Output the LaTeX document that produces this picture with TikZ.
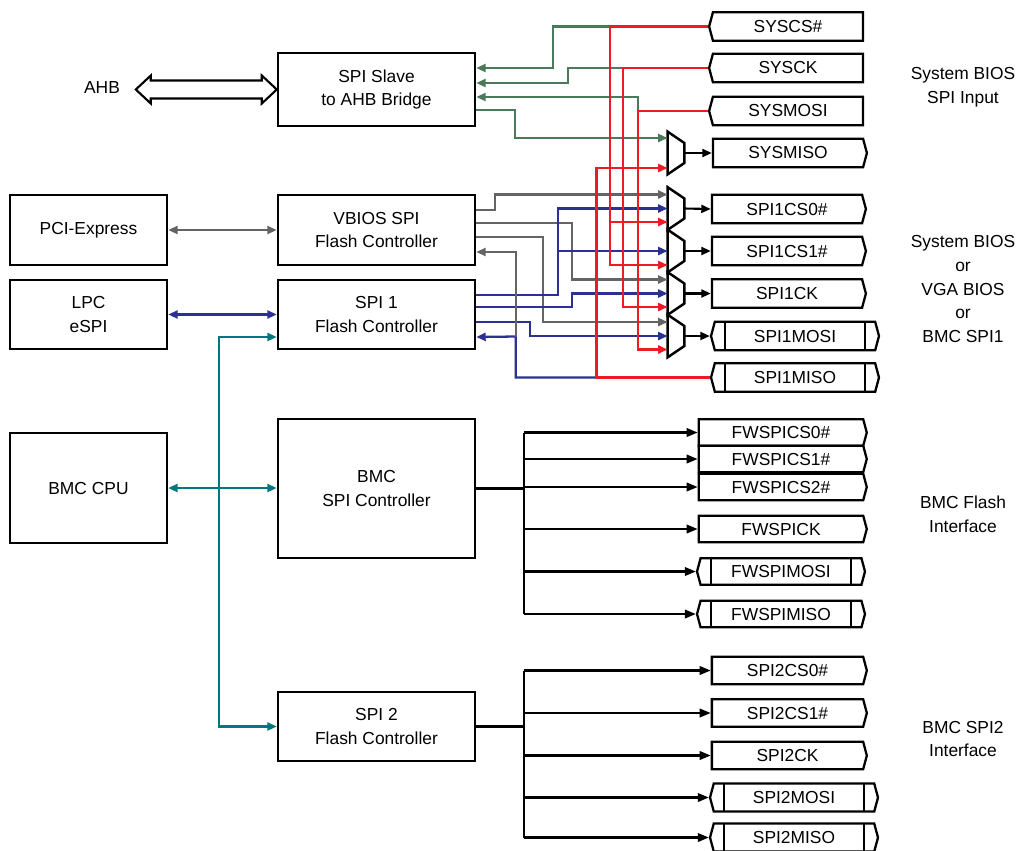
\documentclass[tikz,border=0pt]{standalone}
\usepackage{fontspec}
\setmainfont{Liberation Sans}
\usetikzlibrary{arrows.meta,calc,shapes.symbols}
\definecolor{wgreen}{RGB}{74,122,90}
\definecolor{wgray}{RGB}{100,100,100}
\definecolor{wblue}{RGB}{43,49,146}
\definecolor{wred}{RGB}{237,28,36}
\definecolor{wteal}{RGB}{0,118,128}
\begin{document}
\begin{tikzpicture}[
  x=0.02cm, y=-0.02cm,
  >={Triangle[length=.19cm,width=.16cm]},
  every node/.style={font=\fontsize{9.9}{13.6}\selectfont},
  box/.style={draw, line width=1.4pt, align=center, inner sep=0, minimum width=3.94cm},
  pin/.style={signal, draw, line width=1.3pt, signal pointer angle=150, inner sep=0, minimum height=.57cm, minimum width=3.08cm},
  pinin/.style={pin, signal to=west},
  pinout/.style={pin, signal to=east},
  pinio/.style={pin, signal to=west and east, minimum width=3.36cm,
    path picture={\draw[line width=1.3pt]
      ([xshift=.28cm]path picture bounding box.north west) -- ([xshift=.28cm]path picture bounding box.south west)
      ([xshift=-.28cm]path picture bounding box.north east) -- ([xshift=-.28cm]path picture bounding box.south east);}},
  fwpin/.style={minimum width=3.36cm, minimum height=.53cm},
  mux/.style={inner sep=0, minimum width=.32cm, minimum height=.84cm},
  gline/.style={wgreen, line width=1.3pt},
  kline/.style={wgray, line width=1.3pt},
  bline/.style={wblue, line width=1.3pt},
  rline/.style={wred, line width=1.6pt},
  tline/.style={wteal, line width=1.3pt},
  sig/.style={line width=1.2pt},
  bus/.style={line width=2pt},
  pinarrow/.style={-{Triangle[length=.22cm,width=.17cm]}}
]
\useasboundingbox (0,0) rectangle (1020,850);

\node[box, minimum height=1.46cm] (bridge) at (376.5,89.5) {SPI Slave\\to AHB Bridge};
\node[box, minimum height=1.4cm] (vbios) at (376.5,230) {VBIOS SPI\\Flash Controller};
\node[box, minimum height=1.38cm] (spi1) at (376.5,314.5) {SPI 1\\Flash Controller};
\node[box, minimum height=2.78cm] (bmcspi) at (376.5,488.5) {BMC\\SPI Controller};
\node[box, minimum height=1.38cm] (spi2) at (376.5,726.5) {SPI 2\\Flash Controller};
\node[box, minimum width=3.14cm, minimum height=1.4cm] (pcie) at (88.5,230) {PCI-Express};
\node[box, minimum width=3.14cm, minimum height=1.38cm] (lpc) at (88.5,314.5) {LPC\\eSPI};
\node[box, minimum width=3.14cm, minimum height=2.2cm] (bmccpu) at (88.5,488) {BMC CPU};
\node (ahb) at (102,88) {AHB};

\node[pinin] (syscs) at (788,26.5) {SYSCS\#};
\node[pinin] (sysck) at (788,68) {SYSCK};
\node[pinin] (sysmosi) at (788,111) {SYSMOSI};
\node[pinout] (sysmiso) at (788,153) {SYSMISO};
\node[pinout] (spi1cs0) at (787,209) {SPI1CS0\#};
\node[pinout] (spi1cs1) at (787,251) {SPI1CS1\#};
\node[pinout] (spi1ck) at (787,293.5) {SPI1CK};
\node[pinio] (spi1mosi) at (795,336) {SPI1MOSI};
\node[pinio] (spi1miso) at (795,377.5) {SPI1MISO};

\node[pinout, fwpin] (fwcs0) at (781,432.5) {FWSPICS0\#};
\node[pinout, fwpin] (fwcs1) at (781,459) {FWSPICS1\#};
\node[pinout, fwpin] (fwcs2) at (781,487) {FWSPICS2\#};
\node[pinout, fwpin] (fwck) at (781,529) {FWSPICK};
\node[pinio, fwpin] (fwmosi) at (781,571.5) {FWSPIMOSI};
\node[pinio, fwpin] (fwmiso) at (781,614) {FWSPIMISO};

\node[pinout, minimum width=3.1cm, minimum height=.55cm] (spi2cs0) at (787.5,670.5) {SPI2CS0\#};
\node[pinout, minimum width=3.1cm, minimum height=.55cm] (spi2cs1) at (787.5,713) {SPI2CS1\#};
\node[pinout, minimum width=3.1cm, minimum height=.55cm] (spi2ck) at (787.5,755.5) {SPI2CK};
\node[pinio, minimum height=.56cm] (spi2mosi) at (794,797.5) {SPI2MOSI};
\node[pinio, minimum height=.56cm] (spi2miso) at (794,837.5) {SPI2MISO};

\node[align=center] (grpsys) at (963,87) {System BIOS\\SPI Input};
\node[align=center] (grpspi1) at (963,289) {System BIOS\\or\\VGA BIOS\\or\\BMC SPI1};
\node[align=center] (grpfw) at (963,514.5) {BMC Flash\\Interface};
\node[align=center] (grpspi2) at (963,739) {BMC SPI2\\Interface};

\node[mux] (mux0) at (676,153) {};
\node[mux] (mux1) at (676,208.5) {};
\node[mux] (mux2) at (676,251) {};
\node[mux] (mux3) at (676,293.5) {};
\node[mux] (mux4) at (676,336) {};
\foreach \m in {0,...,4}
  \draw[line width=1.4pt] (mux\m.north west) -- ([yshift=.2cm]mux\m.east) -- ([yshift=-.2cm]mux\m.east) -- (mux\m.south west) -- cycle;
\foreach \m in {1,3,4} {
  \coordinate (m\m a) at ([yshift=.28cm]mux\m.west);
  \coordinate (m\m b) at (mux\m.west);
  \coordinate (m\m c) at ([yshift=-.27cm]mux\m.west);
}
\coordinate (m0a) at ([yshift=.3cm]mux0.west);
\coordinate (m0c) at ([yshift=-.3cm]mux0.west);
\coordinate (m2b) at (mux2.west);
\coordinate (m2c) at ([yshift=-.28cm]mux2.west);
\foreach \m/\p in {mux0/sysmiso, mux1/spi1cs0, mux2/spi1cs1, mux3/spi1ck, mux4/spi1mosi}
  \draw[sig,->] (\m.east) -- (\p.west);

\draw[line width=1.2pt, fill=white] (bridge.west) -- ++(-15,-14) -- ++(0,5) -- ++(-111,0) -- ++(0,-5) -- ++(-15,14)
  -- ++(15,14) -- ++(0,-5) -- ++(111,0) -- ++(0,5) -- cycle;
\draw[kline,<->] (pcie) -- (vbios);
\draw[bline,<->] (lpc) -- (spi1);
\draw[tline,<->] (bmccpu.east) -- (bmccpu.east -| bmcspi.west);
\coordinate (tj) at ([xshift=1.02cm]bmccpu.east);
\draw[tline,->] (tj) |- ([yshift=-.45cm]spi1.west);
\draw[tline,->] (tj) |- (spi2.west);

\draw[kline,->] ([yshift=.4cm]vbios.east) -- ++(19,0) |- (m1a);
\draw[kline,->] ([yshift=.14cm]vbios.east) -- ++(96,0) |- (m3a);
\draw[kline,->] ([yshift=-.14cm]vbios.east) -- ++(67,0) |- (m4a);

\draw[bline,->] ([yshift=.39cm]spi1.east) -- ++(82,0) coordinate (bcs) |- (m1b);
\draw[bline,->] (bcs |- m2b) -- (m2b);
\draw[bline,->] ([yshift=.15cm]spi1.east) -- ++(96,0) |- (m3b);
\draw[bline,->] ([yshift=-.15cm]spi1.east) -- ++(54,0) |- (m4b);

\draw[rline] (spi1miso.west) -- ++(-113,0) coordinate (rmiso);
\draw[bline,->] (rmiso) -- ++(-81,0) -- ++(0,-41) coordinate (misoj) -- ([yshift=-.45cm]spi1.east);
\draw[kline,->] (misoj) |- ([yshift=-.44cm]vbios.east);

\path (syscs.west) -- ++(-98,0) coordinate (rcs);
\path (sysck.west) -- ++(-85,0) coordinate (rck);
\path (sysmosi.west) -- ++(-70,0) coordinate (rmosi);
\draw[gline,->] (rcs) -- ++(-57,0) |- ([yshift=.43cm]bridge.east);
\draw[gline,->] (rck) -- ++(-55,0) |- ([yshift=.13cm]bridge.east);
\draw[gline,->] (rmosi) |- ([yshift=-.15cm]bridge.east);
\draw[gline,->] ([yshift=-.41cm]bridge.east) -- ++(39,0) |- (m0a);

\draw[rline,->] (syscs.west) -- (rcs) |- (m2c);
\draw[rline,->] (rcs |- m1c) -- (m1c);
\draw[rline,->] (sysck.west) -- (rck) |- (m3c);
\draw[rline,->] (sysmosi.west) -- (rmosi) |- (m4c);
\draw[rline,->] (spi1miso.west) -- (rmiso) |- (m0c);

\draw[bus] (bmcspi.east) -- ++(48,0) coordinate (fwj);
\draw[sig] (fwj |- fwcs0.west) -- (fwj |- fwmiso.west);
\foreach \p in {fwcs0,fwcs1,fwcs2,fwck,fwmosi,fwmiso}
  \draw[sig,pinarrow] (fwj |- \p.west) -- (\p.west);

\draw[bus] (spi2.east) -- ++(48,0) coordinate (s2j);
\draw[sig] (s2j |- spi2cs0.west) -- (s2j |- spi2miso.west);
\foreach \p in {spi2cs0,spi2cs1,spi2ck,spi2mosi,spi2miso}
  \draw[sig,pinarrow] (s2j |- \p.west) -- (\p.west);
\end{tikzpicture}
\end{document}
